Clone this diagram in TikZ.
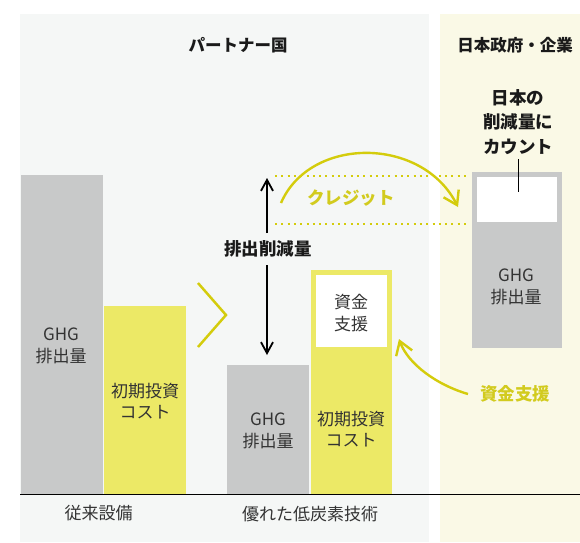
\documentclass[tikz,border=0pt]{standalone}
\usepackage{fontspec}
\setmainfont{Noto Sans CJK JP}
\usetikzlibrary{arrows.meta}
\definecolor{panelL}{HTML}{F5F7F6}
\definecolor{panelR}{HTML}{FAF9E6}
\definecolor{barG}{HTML}{C8C9C9}
\definecolor{barY}{HTML}{ECE966}
\definecolor{arrY}{HTML}{D4CC0C}
\definecolor{txtY}{HTML}{D2CB1E}
\definecolor{txtD}{HTML}{333333}
\definecolor{txtB}{HTML}{1A1A1A}
\tikzset{
  regtxt/.style={inner sep=0pt, align=center, text=txtD, font=\fontsize{17}{21.5}\selectfont},
  boldtxt/.style={inner sep=0pt, align=center, text=txtB, font=\bfseries\fontsize{17.5}{24.5}\selectfont},
  headtxt/.style={inner sep=0pt, text=txtB, font=\bfseries\fontsize{16.5}{20}\selectfont},
  yeltxt/.style={inner sep=0pt, text=txtY, font=\bfseries\fontsize{17.5}{20}\selectfont},
  blkarr/.style={draw=black, line width=1.8pt, -{Straight Barb[length=11pt,width=12pt]}},
  yelarr/.style={draw=arrY, line width=2.4pt, -{Straight Barb[length=13pt,width=17pt]}},
  dotline/.style={draw=arrY, line width=2pt, dash pattern=on 2pt off 4.3pt},
}
\begin{document}
\begin{tikzpicture}[x=1pt,y=-1pt]
\useasboundingbox (0,0) rectangle (580,542);
\fill[white] (0,0) rectangle (580,542);
% panels
\fill[panelL] (20,14) rectangle (429,542);
\fill[panelR] (440,14) rectangle (580,542);
% bars
\fill[barG] (21,175) rectangle (103,494);
\fill[barY] (104,306) rectangle (186,494);
\fill[barG] (227,365) rectangle (309,494);
\fill[barY] (311,270) rectangle (392,494);
\fill[white] (316,275) rectangle (387,347);
\fill[barG] (472,172) rectangle (562,348);
\fill[white] (477,177) rectangle (557,222);
% baseline
\coordinate (bl1) at (20,494);
\coordinate (bl2) at (580,494);
\draw[black, line width=1pt] (bl1) -- (bl2);
% headings
\node[headtxt] (hL) at (238,45) {パートナー国};
\node[headtxt] (hR) at (515,45) {日本政府・企業};
\node[boldtxt] (cnt) at (518,122) {日本の\\削減量に\\カウント};
\coordinate (cntE) at (518,192);
\draw[black, line width=0.9pt] (518,159) -- (cntE);
% bar texts
\node[regtxt] (g1) at (61,346) {GHG\\排出量};
\node[regtxt] (y1) at (145,401) {初期投資\\コスト};
\node[regtxt] (g2) at (268,431) {GHG\\排出量};
\node[regtxt] (y2) at (351,429) {初期投資\\コスト};
\node[regtxt] (fd) at (351,313) {資金\\支援};
\node[regtxt] (g3) at (516,287) {GHG\\排出量};
\node[regtxt] (b1) at (98.5,513) {従来設備};
\node[regtxt] (b2) at (310,514) {優れた低炭素技術};
% reduction arrow
\node[boldtxt] (red) at (268,249) {排出削減量};
\coordinate (upS) at (267,233);
\coordinate (upT) at (267,178);
\coordinate (dnS) at (267,265);
\coordinate (dnT) at (267,355);
\draw[blkarr] (upS) -- (upT);
\draw[blkarr] (dnS) -- (dnT);
% chevron
\draw[arrY, line width=2.5pt] (198,283) -- (226,315) -- (198,347);
% credit
\coordinate (d1a) at (275,176); \coordinate (d1b) at (466,176);
\coordinate (d2a) at (275,224); \coordinate (d2b) at (466,224);
\draw[dotline] (d1a) -- (d1b);
\draw[dotline] (d2a) -- (d2b);
\node[yeltxt] (cr) at (351,198) {クレジット};
\coordinate (crS) at (281,203);
\coordinate (crT) at (458,207);
\draw[yelarr] (crS) .. controls (310,136) and (422,136) .. (crT);
% funding
\node[yeltxt] (fs) at (515,394) {資金支援};
\coordinate (fsS) at (468,394);
\coordinate (fsT) at (399,339);
\draw[yelarr] (fsS) .. controls (437,385) and (408,364) .. (fsT);
\end{tikzpicture}
\end{document}
